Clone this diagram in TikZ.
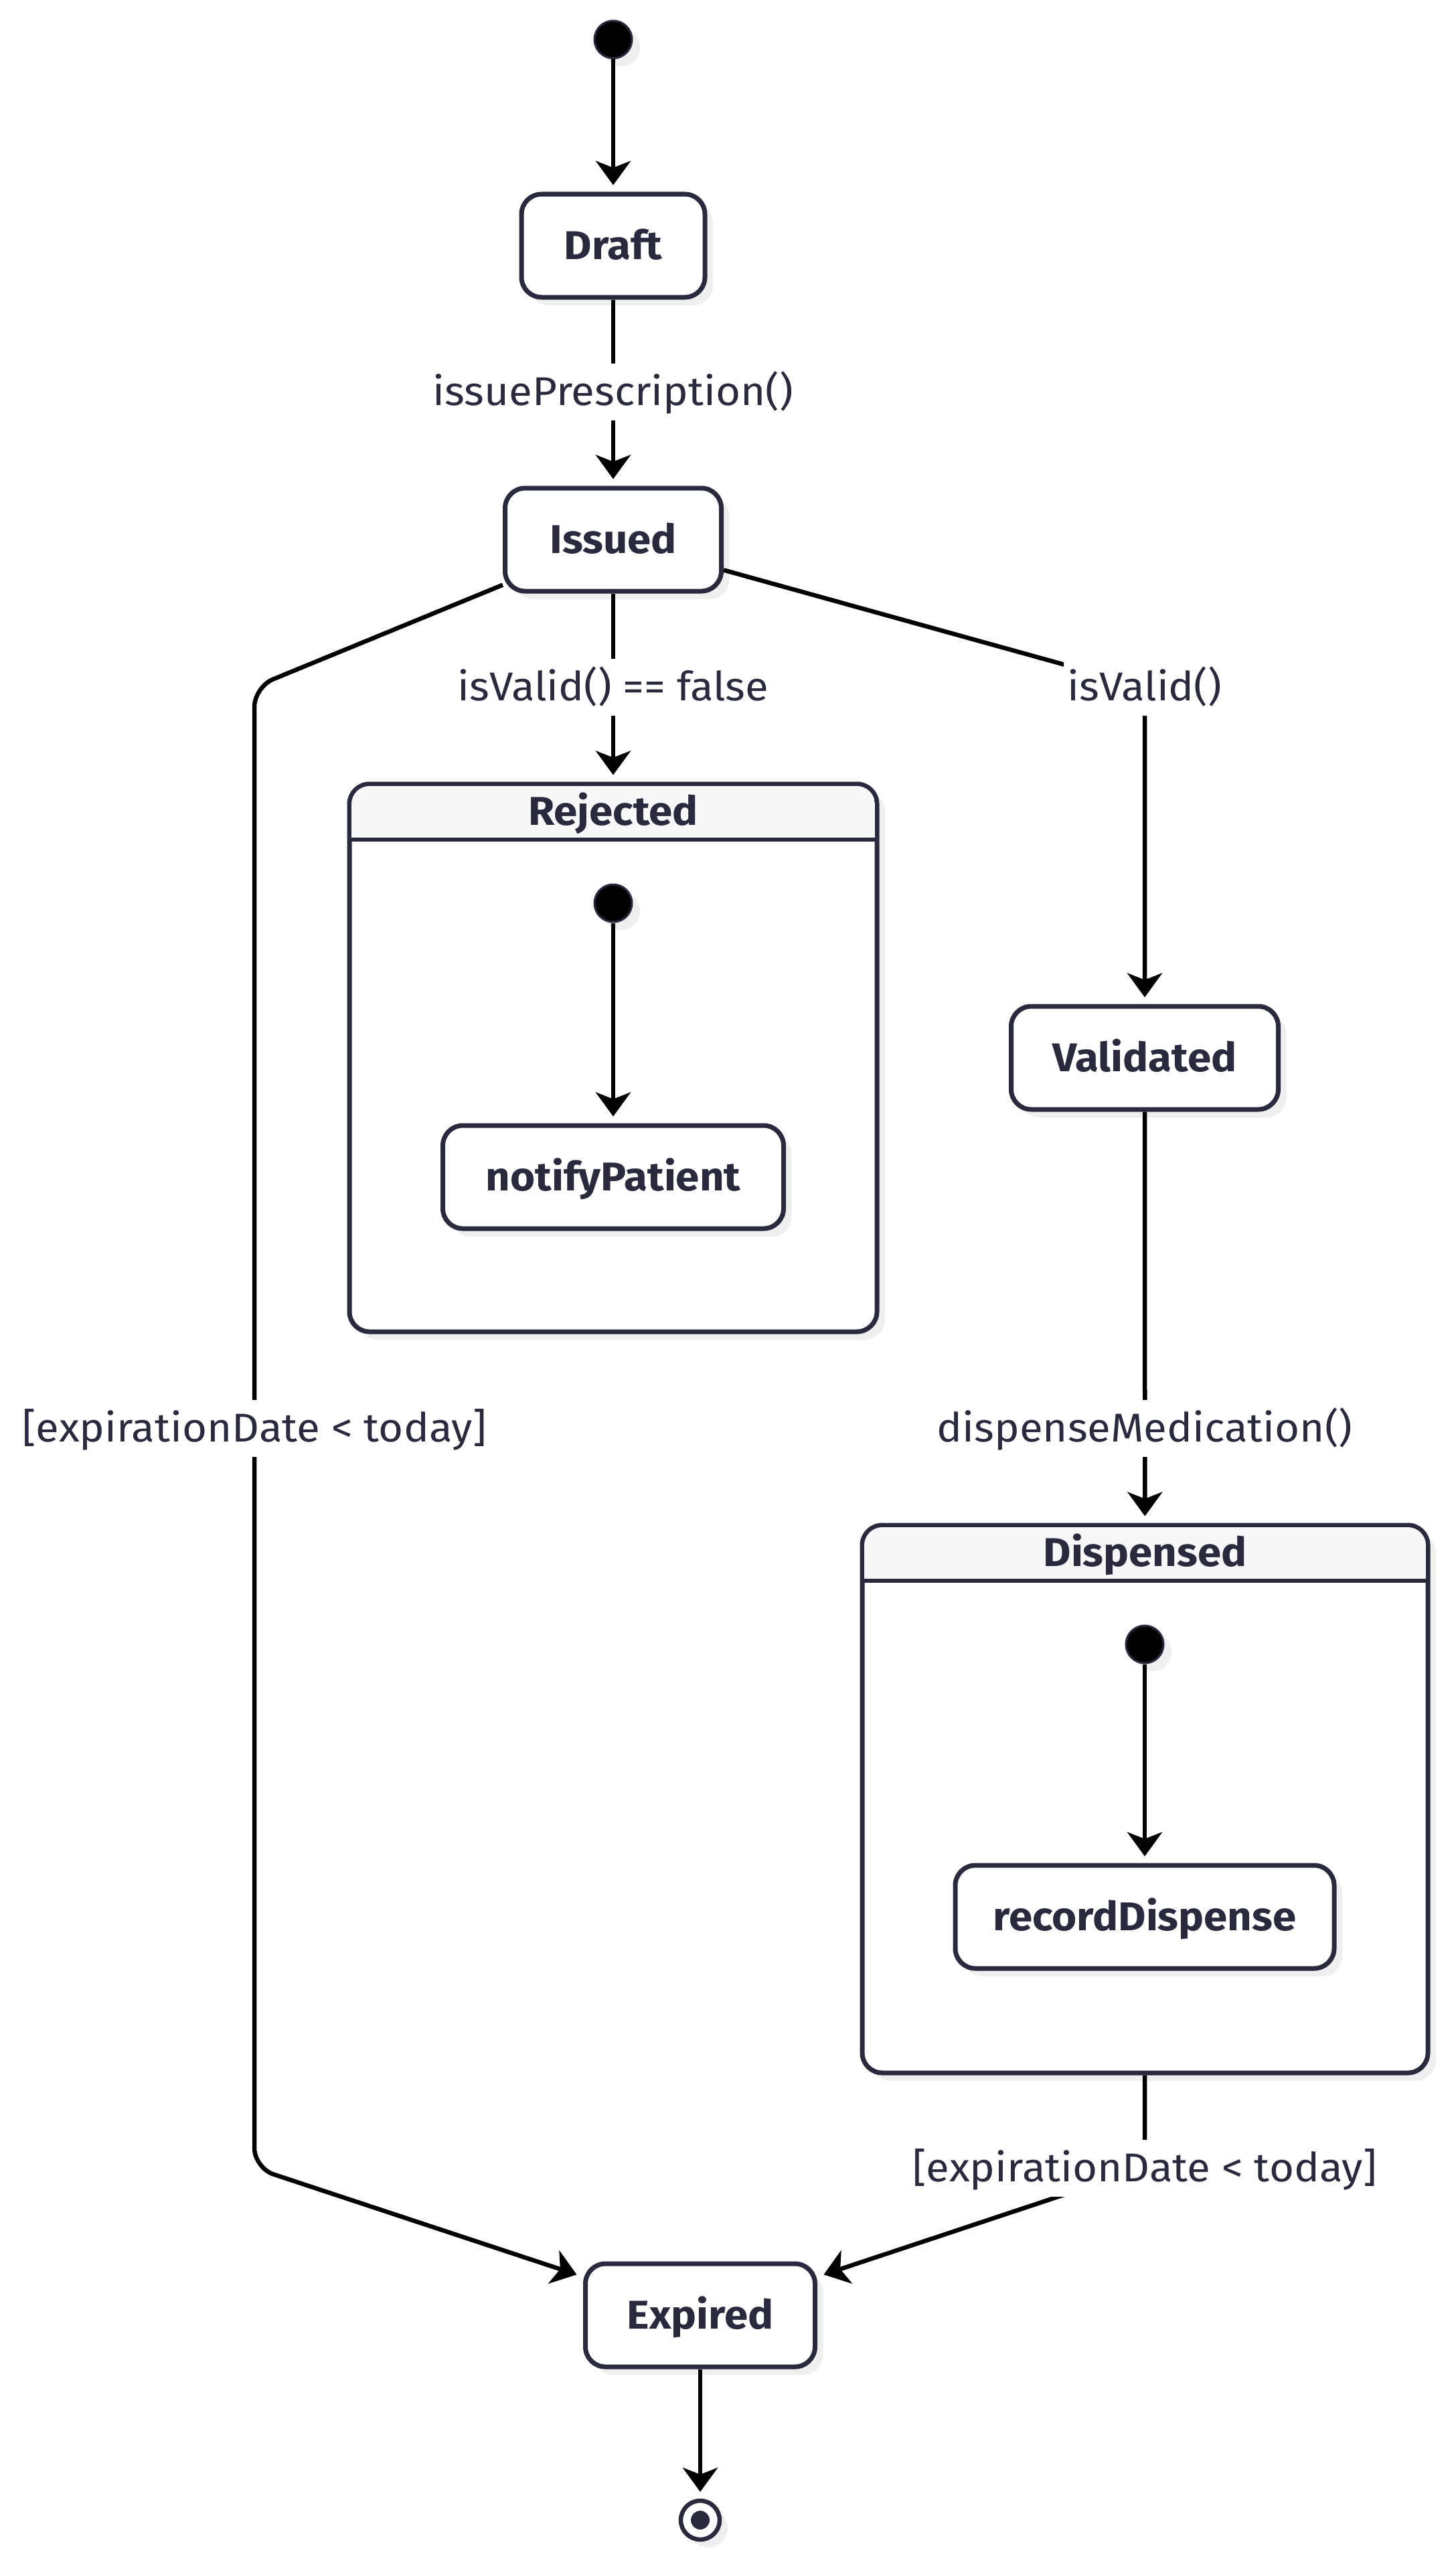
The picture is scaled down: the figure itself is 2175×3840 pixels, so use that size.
\documentclass[tikz,border=0pt]{standalone}
\usepackage{fontspec}
\setmainfont{Fira Sans}[FakeStretch=1.06]
\usetikzlibrary{arrows.meta,shadows}
\definecolor{ink}{HTML}{2A2A3F}
\definecolor{hdr}{HTML}{F8F8FA}
\definecolor{shd}{HTML}{EFEFEF}
\newcommand\statefont{\fontsize{60}{64}\selectfont\bfseries}
\newcommand\lblfont{\fontsize{60}{64}\selectfont}
\begin{document}
\begin{tikzpicture}[x=1pt,y=-1pt,
  >={Stealth[length=36pt,width=52pt,inset=10pt]},
  shadowed/.style={drop shadow={shadow xshift=12pt,shadow yshift=-12pt,fill=shd,opacity=1}},
  statebox/.style={shadowed, draw=ink, line width=7pt, fill=white, rounded corners=30pt,
    minimum height=154pt, font=\statefont, text=ink, inner sep=0pt, text height=41pt, text depth=0pt},
  compbox/.style={shadowed, draw=ink, line width=7pt, fill=white, rounded corners=30pt, inner sep=0pt,
    minimum height=818pt},
  comptitle/.style={font=\statefont, text=ink, inner sep=0pt, text height=41pt, text depth=0pt},
  initdot/.style={shadowed, circle, fill=black, draw=ink, line width=3pt, minimum size=56pt, inner sep=0pt},
  finaldot/.style={shadowed, circle, fill=white, draw=ink, line width=6.5pt, minimum size=58pt, inner sep=0pt},
  lbl/.style={fill=white, text=ink, font=\lblfont, inner xsep=6pt, inner ysep=0pt,
    text height=41pt, text depth=0pt, minimum height=85pt},
  conn/.style={draw=black, line width=6.5pt, ->, shorten >=10pt},
]
\fill[white] (0,0) rectangle (2175,3840);
\useasboundingbox (0,0) rectangle (2175,3840);

% composite states
\node[compbox, minimum width=788pt] (rejected) at (916,1580) {};
\begin{scope}
  \clip[rounded corners=27pt] (525,1174) rectangle (1307,1986);
  \fill[hdr] (525,1174) rectangle (1307,1254);
\end{scope}
\draw[ink, line width=6.5pt] (522,1254) -- (1310,1254);
\node[comptitle] (rejT) at (916,1212) {Rejected};

\node[compbox, minimum width=845pt] (dispensed) at (1710.5,2687) {};
\begin{scope}
  \clip[rounded corners=27pt] (1291,2281) rectangle (2130,3093);
  \fill[hdr] (1291,2281) rectangle (2130,2361);
\end{scope}
\draw[ink, line width=6.5pt] (1288,2361) -- (2133,2361);
\node[comptitle] (dispT) at (1710.5,2319) {Dispensed};

% simple states
\node[initdot] (init) at (916,59) {};
\node[statebox, minimum width=274pt] (draft) at (916,367) {Draft};
\node[statebox, minimum width=323pt] (issued) at (916,806) {Issued};
\node[initdot] (rinit) at (916,1349) {};
\node[statebox, minimum width=509pt] (notify) at (916,1758) {notifyPatient};
\node[statebox, minimum width=399pt] (validated) at (1710,1580) {Validated};
\node[initdot] (dinit) at (1710,2456) {};
\node[statebox, minimum width=566pt] (record) at (1710,2863) {recordDispense};
\node[statebox, minimum width=343pt] (expired) at (1046,3458) {Expired};
\node[finaldot] (final) at (1046,3764) {};
\fill[ink] (final.center) circle (14pt);

% bend points
\coordinate (c3) at (1710,1026);
\coordinate (c4a) at (380,1026);
\coordinate (c4b) at (380,3238);
\coordinate (c6) at (1710,3238);

% connectors
\draw[conn] (init) -- (draft);
\draw[conn] (draft) -- (issued);
\draw[conn] (issued) -- (rejected);
\draw[conn, rounded corners=30pt] (issued) -- (c3) -- (validated);
\draw[conn, rounded corners=30pt] (issued) -- (c4a) -- (c4b) -- (expired);
\draw[conn] (validated) -- (dispensed);
\draw[conn, rounded corners=30pt] (dispensed) -- (c6) -- (expired);
\draw[conn] (expired) -- (final);
\draw[conn] (rinit) -- (notify);
\draw[conn] (dinit) -- (record);

% labels
\node[lbl] (l1) at (916,585) {issuePrescription()};
\node[lbl] (l2) at (916,1026) {isValid() == false};
\node[lbl] (l3) at (1710,1026) {isValid()};
\node[lbl] (l4) at (380,2133) {[expirationDate < today]};
\node[lbl] (l5) at (1710,2133) {dispenseMedication()};
\node[lbl] (l6) at (1710,3238) {[expirationDate < today]};
\end{tikzpicture}
\end{document}
